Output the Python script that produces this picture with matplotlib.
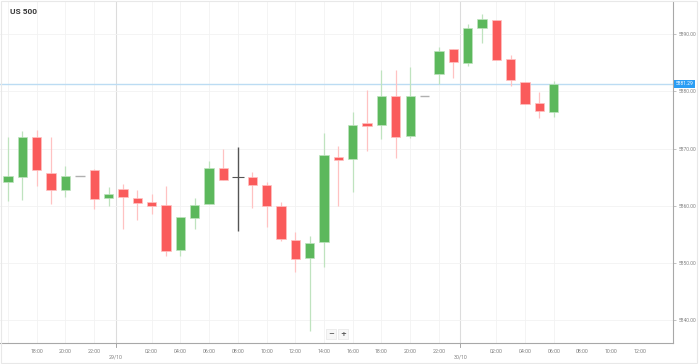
import matplotlib.pyplot as plt
from matplotlib.patches import Rectangle

# hourly candles, 28/10 16:00 -> 30/10 06:00
hours = ["16:00", "17:00", "18:00", "19:00", "20:00", "21:00", "22:00", "23:00",
         "00:00", "01:00", "02:00", "03:00", "04:00", "05:00", "06:00", "07:00",
         "08:00", "09:00", "10:00", "11:00", "12:00", "13:00", "14:00", "15:00",
         "16:00", "17:00", "18:00", "19:00", "20:00", "21:00", "22:00", "23:00",
         "00:00", "01:00", "02:00", "03:00", "04:00", "05:00", "06:00"]

opens = [5864.1, 5865.1, 5872.0, 5865.7, 5862.8, 5865.3, 5866.2, 5861.4,
         5862.9, 5861.4, 5860.6, 5860.1, 5852.3, 5857.8, 5860.3, 5866.7,
         5865.0, 5865.1, 5863.6, 5860.0, 5854.0, 5850.9, 5853.7, 5868.6,
         5868.1, 5874.4, 5874.1, 5879.1, 5872.2, 5879.1, 5883.1, 5887.3,
         5885.0, 5891.0, 5892.4, 5885.6, 5881.7, 5878.0, 5876.4]
highs = [5872.0, 5873.1, 5873.2, 5872.0, 5867.0, 5865.3, 5866.4, 5863.3,
         5863.8, 5862.7, 5862.0, 5863.5, 5858.0, 5861.3, 5867.8, 5870.0,
         5870.2, 5866.0, 5864.2, 5860.7, 5855.4, 5854.7, 5872.8, 5870.5,
         5876.4, 5880.2, 5883.7, 5883.7, 5884.3, 5879.1, 5887.8, 5887.3,
         5891.7, 5893.5, 5892.4, 5886.3, 5881.7, 5879.8, 5881.8]
lows = [5860.9, 5861.0, 5863.5, 5860.3, 5861.6, 5865.3, 5859.4, 5860.0,
        5856.0, 5857.6, 5858.5, 5851.2, 5851.3, 5856.0, 5860.3, 5864.5,
        5855.6, 5859.6, 5856.3, 5853.8, 5848.5, 5838.2, 5849.4, 5860.0,
        5862.5, 5869.6, 5871.6, 5868.3, 5871.9, 5879.1, 5881.2, 5882.4,
        5884.4, 5888.4, 5885.5, 5880.9, 5877.8, 5875.4, 5875.6]
closes = [5865.3, 5872.0, 5866.2, 5862.7, 5865.3, 5865.3, 5861.2, 5862.0,
          5861.5, 5860.5, 5859.9, 5852.2, 5858.0, 5860.2, 5866.7, 5864.5,
          5865.0, 5863.7, 5859.9, 5854.2, 5850.7, 5853.5, 5868.8, 5868.0,
          5874.2, 5873.9, 5879.1, 5872.1, 5879.1, 5879.1, 5887.0, 5885.1,
          5891.0, 5892.6, 5885.5, 5882.0, 5877.8, 5876.6, 5881.3]

last_price = 5881.29
price_ticks = [5840, 5850, 5860, 5870, 5880, 5890]
day_labels = ["29/10", "30/10"]
day_breaks = [7.5, 31.5]
selected = 16  # hovered candle drawn dark

GREEN, GREEN_W = "#5cb85c", "#bfe3bf"
RED, RED_W = "#fa5b5b", "#ffc2c2"

fig = plt.figure(figsize=(6.99, 3.64), dpi=100)
ax = fig.add_axes([0, 21 / 364, 673 / 699, 342 / 364])
fig.patches.append(Rectangle((0.001, 0.003), 0.996, 0.995, transform=fig.transFigure,
                             fill=False, edgecolor="#e8e8e8", linewidth=0.8))

x = list(range(len(opens)))

# grid
for i in x:
    if hours[i] in ("00:00",):
        continue
    if int(hours[i][:2]) % 2 == 0:
        ax.axvline(i, color="#f2f2f2", linewidth=0.6, zorder=0)
for b in day_breaks:
    ax.axvline(b, color="#dcdcdc", linewidth=0.8, zorder=0)
for p in price_ticks:
    ax.axhline(p, color="#f2f2f2", linewidth=0.6, zorder=0)

ax.axhline(last_price, color="#bcdcf3", linewidth=1.0, zorder=1)

for i in x:
    o, h, l, c = opens[i], highs[i], lows[i], closes[i]
    if i == selected:
        ax.vlines(i, l, h, color="#555555", linewidth=1.0, zorder=3)
        ax.hlines(o, i - 0.4, i + 0.4, color="#555555", linewidth=0.8, zorder=3)
        continue
    if abs(c - o) < 0.05:
        ax.hlines(o, i - 0.33, i + 0.33, color="#b0b0b0", linewidth=1.0, zorder=3)
        continue
    up = c > o
    body, wick = (GREEN, GREEN_W) if up else (RED, RED_W)
    ax.vlines(i, l, h, color=wick, linewidth=0.9, zorder=2)
    ax.bar(i, abs(c - o), bottom=min(o, c), width=0.65, color=body,
           edgecolor=wick, linewidth=0.5, zorder=3)

ax.set_xlim(-0.56, 46.3)
ax.set_ylim(5836.07, 5895.76)

# x ticks every two hours, skip midnight (date label instead)
tick_pos = list(range(2, 45, 2))
tick_lab = []
for t in tick_pos:
    hr = (16 + t) % 24
    tick_lab.append("" if hr == 0 else f"{hr:02d}:00")
ax.set_xticks(tick_pos)
ax.set_xticklabels(tick_lab, fontsize=3.8, color="#808080", family="Roboto")
ax.tick_params(axis="x", length=0, pad=4)
for b, lab in zip(day_breaks, day_labels):
    ax.text(b, -0.035, lab, transform=ax.get_xaxis_transform(), ha="center", va="top",
            fontsize=3.8, color="#808080", family="Roboto")
    ax.plot([b, b], [0, -0.012], transform=ax.get_xaxis_transform(), color="#999999",
            linewidth=0.6, clip_on=False)

ax.yaxis.tick_right()
ax.set_yticks(price_ticks)
ax.set_yticklabels([f"{p:.2f}" for p in price_ticks], fontsize=3.5, color="#808080",
                   family="Roboto")
ax.tick_params(axis="y", length=2.5, width=0.5, color="#aaaaaa", pad=1.5)

for s in ("left", "top"):
    ax.spines[s].set_visible(False)
for s in ("right", "bottom"):
    ax.spines[s].set_color("#a8a8a8")
    ax.spines[s].set_linewidth(0.8)

ax.text(1.004, last_price, f"{last_price:.2f}", transform=ax.get_yaxis_transform(),
        ha="left", va="center", fontsize=3.5, color="white", family="Roboto",
        bbox=dict(boxstyle="square,pad=0.25", facecolor="#2a9df4", edgecolor="none"))

fig.text(10 / 699, 1 - 12 / 364, "US 500", ha="left", va="center", fontsize=6,
         fontweight="bold", color="#3a3a3a", family="Roboto")

# zoom buttons
for xp, sym in ((331, "\u2212"), (343, "+")):
    fig.text(xp / 699, 1 - 334 / 364, sym, ha="center", va="center", fontsize=5,
             fontweight="bold", color="#555555",
             bbox=dict(boxstyle="square,pad=0.3", facecolor="#f7f7f7", edgecolor="#e6e6e6",
                       linewidth=0.5))

fig.savefig("out.png", dpi=100)
